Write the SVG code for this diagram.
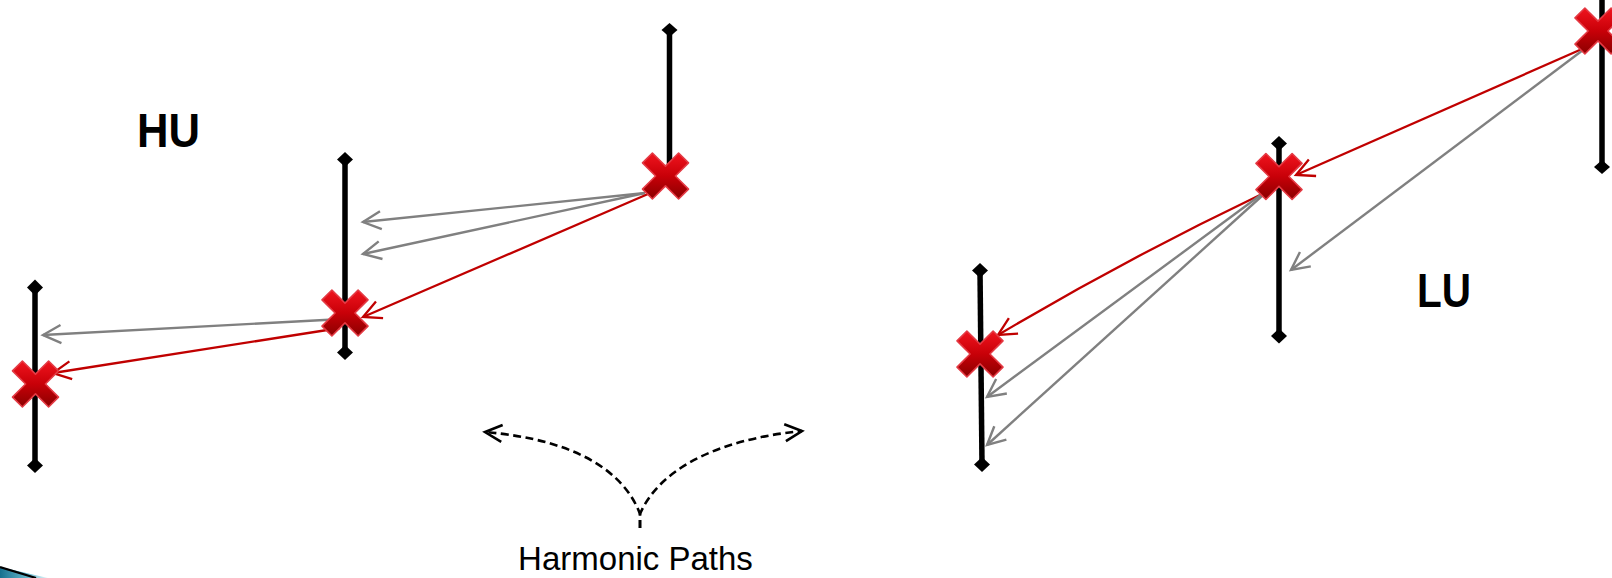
<svg xmlns="http://www.w3.org/2000/svg" xmlns:xlink="http://www.w3.org/1999/xlink" width="1612" height="578" viewBox="0 0 1612 578">
<style>
.bar{stroke:#000;stroke-width:5.5;fill:none}
.dia{fill:#000}
.g{stroke:#808080;stroke-width:2.4;fill:none;marker-end:url(#ag)}
.r{stroke:#c00000;stroke-width:2.3;fill:none;marker-end:url(#ar)}
.d{stroke:#000;stroke-width:2.6;fill:none;stroke-dasharray:8 4.5;marker-end:url(#ad)}
.big{font-family:"Liberation Sans",Arial,sans-serif;font-weight:bold;font-size:48px;fill:#000}
.lbl{font-family:"Liberation Sans",Arial,sans-serif;font-size:33px;fill:#000}
</style>
<defs>
<linearGradient id="xg" x1="0" y1="0" x2="0" y2="1">
<stop offset="0" stop-color="#f0141e"/>
<stop offset="0.5" stop-color="#c80008"/>
<stop offset="1" stop-color="#8a0000"/>
</linearGradient>
<linearGradient id="tg" x1="0" y1="0" x2="1" y2="0">
<stop offset="0" stop-color="#16708e"/>
<stop offset="0.6" stop-color="#6bbcd0"/>
<stop offset="1" stop-color="#e6f6fa"/>
</linearGradient>
<polygon id="xm" points="23,-13.1 9.9,0 23,13.1 13.1,23 0,9.9 -13.1,23 -23,13.1 -9.9,0 -23,-13.1 -13.1,-23 0,-9.9 13.1,-23" fill="url(#xg)" stroke="#e43a44" stroke-width="1.6" stroke-linejoin="round"/>
<marker id="ag" markerUnits="userSpaceOnUse" orient="auto" overflow="visible" markerWidth="1" markerHeight="1">
<path d="M-18,-9 L0,0 L-18,9" fill="none" stroke="#808080" stroke-width="2.4"/>
</marker>
<marker id="ar" markerUnits="userSpaceOnUse" orient="auto" overflow="visible" markerWidth="1" markerHeight="1">
<path d="M-18,-9 L0,0 L-18,9" fill="none" stroke="#c00000" stroke-width="2.3"/>
</marker>
<marker id="ad" markerUnits="userSpaceOnUse" orient="auto" overflow="visible" markerWidth="1" markerHeight="1">
<path d="M-17,-8.5 L0,0 L-17,8.5" fill="none" stroke="#000" stroke-width="2.6"/>
</marker>
</defs>

<rect width="1612" height="578" fill="#fff"/>

<!-- bottom-left decoration -->
<polygon points="0,567 48,578 0,578" fill="url(#tg)"/>
<line x1="0" y1="567" x2="36" y2="578" stroke="#000" stroke-width="2.2"/>

<!-- bars -->
<g id="bar1"><line class="bar" x1="35" y1="287" x2="35" y2="465"/><polygon class="dia" points="35,279.5 43,287.5 35,295.5 27,287.5"/><polygon class="dia" points="35,458 43,465.5 35,473 27,465.5"/></g>
<g id="bar2"><line class="bar" x1="345" y1="159" x2="345" y2="352"/><polygon class="dia" points="345,152 353,159.5 345,167 337,159.5"/><polygon class="dia" points="345,345 353,352.5 345,360 337,352.5"/></g>
<g id="bar3"><line class="bar" x1="669.5" y1="30" x2="669.5" y2="176"/><polygon class="dia" points="669.5,23 677.5,30 669.5,37 661.5,30"/></g>
<g id="bar4"><line class="bar" x1="980" y1="270" x2="982" y2="464"/><polygon class="dia" points="980,263 988,270.5 980,278 972,270.5"/><polygon class="dia" points="982,457 990,464.5 982,472 974,464.5"/></g>
<g id="bar5"><line class="bar" x1="1279" y1="143" x2="1279" y2="336"/><polygon class="dia" points="1279,136 1287,143.5 1279,151 1271,143.5"/><polygon class="dia" points="1279,328.5 1287,336 1279,343.5 1271,336"/></g>
<g id="bar6"><line class="bar" x1="1602" y1="-10" x2="1602" y2="167"/><polygon class="dia" points="1602,160 1610,167 1602,174 1594,167"/></g>

<!-- connectors -->
<g id="connectors">
<line class="g" x1="645" y1="193" x2="363" y2="222"/>
<line class="g" x1="645" y1="193" x2="363" y2="254"/>
<line class="r" x1="648" y1="194" x2="363" y2="317"/>
<line class="g" x1="343" y1="319" x2="43" y2="335"/>
<line class="r" x1="340" y1="328" x2="53" y2="373"/>
<line class="r" x1="1582" y1="49" x2="1296" y2="175"/>
<line class="g" x1="1583" y1="50" x2="1291" y2="270"/>
<path class="r" d="M1260,195 Q1126,259 998,335"/>
<line class="g" x1="1262" y1="194" x2="987" y2="397"/>
<line class="g" x1="1263" y1="195" x2="987" y2="445"/>
<path class="d" d="M640,528 L640,514 C625,474 580,440 485,432"/>
<path class="d" d="M640,528 L640,514 C658,472 712,440 802,431"/>
</g>

<!-- X marks -->
<g id="x1"><use xlink:href="#xm" x="35.5" y="384"/></g>
<g id="x2"><use xlink:href="#xm" x="345" y="313"/></g>
<g id="x3"><use xlink:href="#xm" x="665.5" y="176"/></g>
<g id="x4"><use xlink:href="#xm" x="980" y="354"/></g>
<g id="x5"><use xlink:href="#xm" x="1279" y="176.5"/></g>
<g id="x6"><use xlink:href="#xm" x="1598" y="31"/></g>

<!-- labels -->
<g id="labels">
<text class="big" x="137" y="147" textLength="63" lengthAdjust="spacingAndGlyphs">HU</text>
<text class="big" x="1417" y="307" textLength="54" lengthAdjust="spacingAndGlyphs">LU</text>
<text class="lbl" x="635.5" y="570" text-anchor="middle">Harmonic Paths</text>
</g>
</svg>
